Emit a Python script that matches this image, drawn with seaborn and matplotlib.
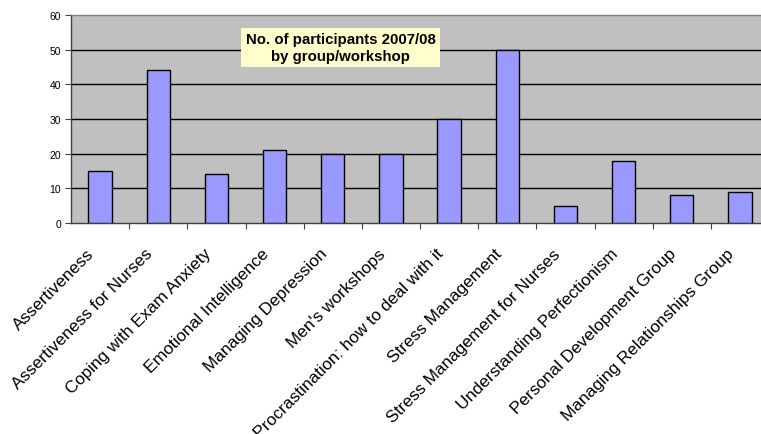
import matplotlib
matplotlib.use("Agg")
import matplotlib.pyplot as plt
import matplotlib.transforms as mtransforms
from matplotlib.ticker import FixedLocator
import seaborn as sns
import pandas as pd
import numpy as np

workshops = [
    "Assertiveness",
    "Assertiveness for Nurses",
    "Coping with Exam Anxiety",
    "Emotional Intelligence",
    "Managing Depression",
    "Men's workshops",
    "Procrastination: how to deal with it",
    "Stress Management",
    "Stress Management for Nurses",
    "Understanding Perfectionism",
    "Personal Development Group",
    "Managing Relationships Group",
]
participants = [15, 44, 14, 21, 20, 20, 30, 50, 5, 18, 8, 9]
y_ticks = [0, 10, 20, 30, 40, 50, 60]
title_text = "No. of participants 2007/08\nby group/workshop"

sns.set_theme(style="white")
plt.rcParams["font.family"] = ["Liberation Sans", "DejaVu Sans"]
plt.rcParams["text.color"] = "black"
plt.rcParams["xtick.color"] = "black"
plt.rcParams["ytick.color"] = "black"

df = pd.DataFrame({"workshop": workshops, "participants": participants})

W, H = 761, 435
fig = plt.figure(figsize=(W / 100, H / 100), dpi=100)
left, right, top, bottom = 71, 769, 16, 224
ax = fig.add_axes([left / W, 1 - bottom / H, (right - left) / W, (bottom - top) / H])
ax.set_facecolor("#C0C0C0")

sns.barplot(data=df, x="workshop", y="participants", color="#9999FF",
            saturation=1, width=0.4, edgecolor="black", linewidth=1,
            ax=ax, zorder=3)

ax.set_xlim(-0.5, len(workshops) - 0.5)
ax.set_ylim(0, 60)
ax.set_yticks(y_ticks)
ax.set_yticklabels([str(v) for v in y_ticks], fontsize=7.5, color="black")
for v in y_ticks[1:-1]:
    ax.axhline(v, color="black", linewidth=1, zorder=1)

# category labels: slanted, ending just left of each category centre
ax.set_xticks(range(len(workshops)))
ax.set_xticklabels([])
ax.tick_params(axis="x", which="major", length=0)
base = mtransforms.blended_transform_factory(ax.transData, ax.transAxes)
shift = mtransforms.ScaledTranslation(-8 / 100, -28 / 100, fig.dpi_scale_trans)
for i, name in enumerate(workshops):
    ax.text(i, 0, name, transform=base + shift, rotation=45,
            rotation_mode="anchor", ha="right", va="center",
            fontsize=12.3, color="black", clip_on=False)

ax.xaxis.set_minor_locator(FixedLocator(np.arange(0.5, len(workshops), 1)))
ax.tick_params(axis="x", which="minor", length=4, width=0.8, color="#404040",
               direction="out", bottom=True)
ax.tick_params(axis="y", length=4, width=0.8, color="#404040",
               direction="out", left=True, pad=3)

for side in ["left", "bottom"]:
    ax.spines[side].set_color("#404040")
    ax.spines[side].set_linewidth(1)
ax.spines["top"].set_color("#808080")
ax.spines["top"].set_linewidth(1)
ax.spines["right"].set_visible(False)
ax.set_xlabel("")
ax.set_ylabel("")

fig.text(340.5 / W, 1 - 48.5 / H, title_text, ha="center", va="center",
         fontsize=10.8, fontweight="bold", linespacing=1.2, color="black",
         bbox=dict(boxstyle="square,pad=0.3", facecolor="#FFFFCC",
                   edgecolor="none"))

fig.savefig("out.png", dpi=100)
